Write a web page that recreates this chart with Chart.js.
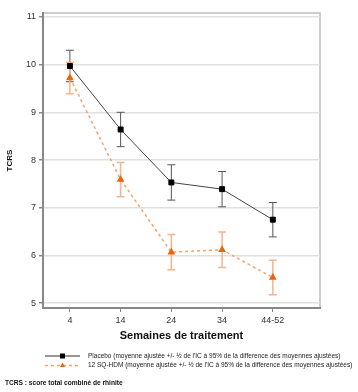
<!DOCTYPE html>
<html>
<head>
<meta charset="utf-8">
<script src="https://cdn.jsdelivr.net/npm/chart.js@4.4.0/dist/chart.umd.min.js"></script>
<style>
  body { margin: 0; background: #fff; }
  #wrap { position: relative; width: 358px; height: 392px; }
  #c { position: absolute; left: 0; top: 0; }
  .leg { position: absolute; left: 88px; font: 6.5px "Liberation Sans", Arial, sans-serif; color: #222; white-space: nowrap; }
  #foot { position: absolute; left: 5px; top: 379px; font: bold 6.6px "Liberation Sans", Arial, sans-serif; color: #111; white-space: nowrap; }
</style>
</head>
<body>
<div id="wrap">
  <canvas id="c" width="358" height="392"></canvas>
  <div class="leg" style="top:352px">Placebo (moyenne ajustée +/- ½ de l'IC à 95% de la difference des moyennes ajustées)</div>
  <div class="leg" style="top:361px">12 SQ-HDM (moyenne ajustée +/- ½ de l'IC à 95% de la difference des moyennes ajustées)</div>
  <div id="foot">TCRS : score total combiné de rhinite</div>
</div>
<script>
let weeks = ["4", "14", "24", "34", "44-52"];
let placebo = [9.97, 8.64, 7.53, 7.39, 6.75];
let placeboErr = [0.33, 0.36, 0.37, 0.37, 0.36];
let hdm = [9.72, 7.59, 6.07, 6.12, 5.54];
let hdmErr = [0.33, 0.36, 0.37, 0.37, 0.36];

let errors = [placeboErr, hdmErr];

// error bars drawn from the y scale
let errorBars = {
  id: "errorBars",
  beforeDatasetsDraw(chart) {
    let ctx = chart.ctx;
    let y = chart.scales.y;
    chart.data.datasets.forEach((ds, i) => {
      let meta = chart.getDatasetMeta(i);
      ctx.save();
      ctx.strokeStyle = ds.errColor;
      ctx.lineWidth = ds.errWidth;
      meta.data.forEach((pt, j) => {
        let v = ds.data[j].y;
        let e = errors[i][j];
        let top = y.getPixelForValue(v + e);
        let bot = y.getPixelForValue(v - e);
        ctx.beginPath();
        ctx.moveTo(pt.x, top); ctx.lineTo(pt.x, bot);
        ctx.moveTo(pt.x - 4, top); ctx.lineTo(pt.x + 4, top);
        ctx.moveTo(pt.x - 4, bot); ctx.lineTo(pt.x + 4, bot);
        ctx.stroke();
      });
      ctx.restore();
    });
  },
};

// box around plot + legend symbols
let frame = {
  id: "frame",
  beforeDraw(chart) {
    let a = chart.chartArea;
    let ctx = chart.ctx;
    ctx.save();
    ctx.strokeStyle = "#bdbdbd";
    ctx.lineWidth = 1.5;
    ctx.strokeRect(a.left, a.top, a.right - a.left, a.bottom - a.top);
    ctx.restore();
  },
  afterDraw(chart) {
    let ctx = chart.ctx;
    ctx.save();
    ctx.strokeStyle = "#333";
    ctx.lineWidth = 1;
    ctx.beginPath(); ctx.moveTo(45, 356); ctx.lineTo(80, 356); ctx.stroke();
    ctx.fillStyle = "#000";
    ctx.fillRect(60, 353.5, 5, 5);
    ctx.strokeStyle = "#f5a46a";
    ctx.lineWidth = 1.3;
    ctx.setLineDash([3, 3]);
    ctx.beginPath(); ctx.moveTo(45, 365.5); ctx.lineTo(80, 365.5); ctx.stroke();
    ctx.fillStyle = "#e8660f";
    ctx.beginPath(); ctx.moveTo(62.5, 362.5); ctx.lineTo(65, 367); ctx.lineTo(60, 367); ctx.closePath(); ctx.fill();
    ctx.restore();
  },
};

let ctx = document.getElementById("c").getContext("2d");
let chart = new Chart(ctx, {
  type: "line",
  data: {
    datasets: [
      {
        label: "Placebo",
        data: placebo.map((v, i) => ({ x: i, y: v })),
        borderColor: "#444",
        borderWidth: 1,
        pointStyle: "rect",
        pointRadius: 3.5,
        pointBackgroundColor: "#000",
        pointBorderColor: "#000",
        errColor: "#555",
        errWidth: 1,
      },
      {
        label: "12 SQ-HDM",
        data: hdm.map((v, i) => ({ x: i, y: v })),
        borderColor: "#f5a46a",
        borderWidth: 1.5,
        borderDash: [3, 3],
        pointStyle: "triangle",
        pointRadius: 3,
        pointBackgroundColor: "#e8660f",
        pointBorderColor: "#e8660f",
        errColor: "#f5b48a",
        errWidth: 1.5,
      },
    ],
  },
  options: {
    responsive: false,
    animation: false,
    layout: { padding: { top: 13, right: 38, left: 0, bottom: 49 } },
    plugins: { legend: { display: false }, tooltip: { enabled: false } },
    scales: {
      x: {
        type: "linear",
        min: -0.53,
        max: 4.93,
        afterFit(s) { s.height = 35; },
        ticks: {
          stepSize: 1,
          includeBounds: false,
          autoSkip: false,
          maxRotation: 0,
          padding: 3,
          color: "#333",
          font: { family: "'Liberation Sans', Arial, sans-serif", size: 9 },
          callback: (v) => weeks[v],
        },
        grid: { drawOnChartArea: false, tickLength: 4, tickColor: "#888" },
        border: { color: "#888", width: 2 },
        title: {
          display: true,
          text: "Semaines de traitement",
          color: "#111",
          padding: { top: 4, bottom: 0 },
          font: { family: "'Liberation Sans', Arial, sans-serif", size: 11, weight: "bold" },
        },
      },
      y: {
        min: 4.9,
        max: 11.08,
        afterFit(s) { s.width = 43; },
        ticks: {
          stepSize: 1,
          includeBounds: false,
          padding: 3,
          color: "#333",
          font: { family: "'Liberation Sans', Arial, sans-serif", size: 9 },
        },
        grid: { color: "#e0e0e0", lineWidth: 1.5, tickLength: 4, tickColor: "#888" },
        border: { color: "#888", width: 2 },
        title: {
          display: true,
          text: "TCRS",
          color: "#111",
          padding: { top: 5, bottom: 0 },
          font: { family: "'Liberation Sans', Arial, sans-serif", size: 8, weight: "bold" },
        },
      },
    },
  },
  plugins: [errorBars, frame],
});
</script>
</body>
</html>
